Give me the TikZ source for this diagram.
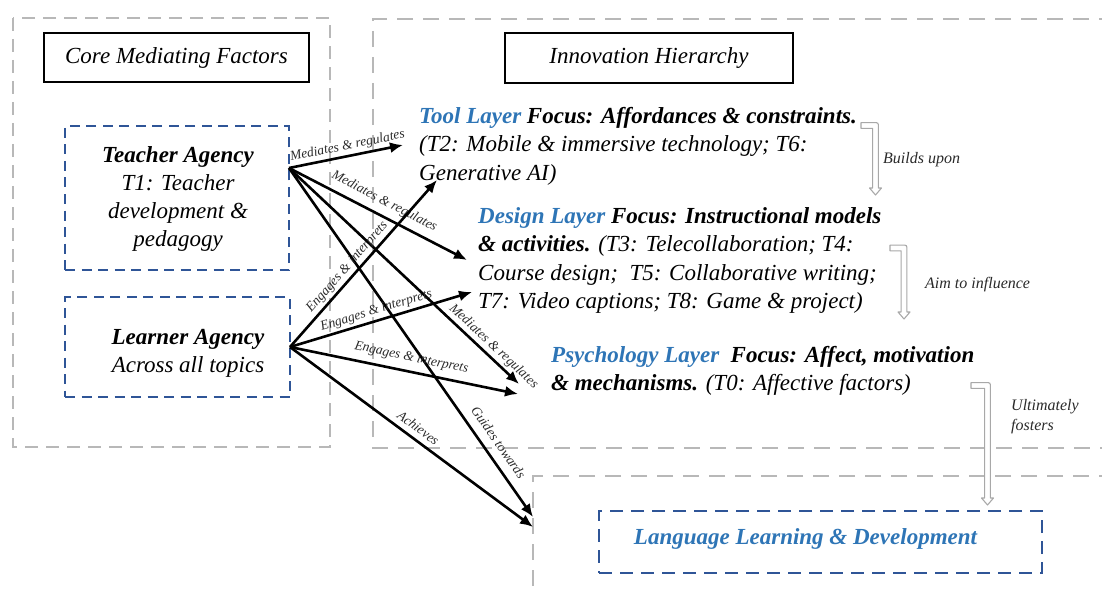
\documentclass[tikz,border=0pt]{standalone}
\usepackage{fontspec}
\setmainfont{Liberation Serif}
\usetikzlibrary{arrows.meta}
\definecolor{boxgray}{HTML}{B8B8B8}
\definecolor{arrowgray}{HTML}{A8A8A8}
\definecolor{dblue}{HTML}{2F5597}
\definecolor{tblue}{HTML}{2E75B6}
\definecolor{lblgray}{HTML}{2A2A2A}
\newcommand\bentarrow[4]{%
  \draw[bentstyle] (#1,#2-2.9) -- (#3-2,#2-2.9)
    .. controls (#3+2.9,#2-2.9) .. (#3+2.9,#2+2)
    -- (#3+2.9,#4-7) -- (#3+6,#4-7) -- (#3,#4) -- (#3-6,#4-7)
    -- (#3-2.9,#4-7) -- (#3-2.9,#2+2.9) -- (#1,#2+2.9) -- cycle;}
\begin{document}
\begin{tikzpicture}[x=1pt,y=-1pt,
  graybox/.style={draw=boxgray, line width=2.8pt, dash pattern=on 13pt off 8pt},
  grayboxwide/.style={draw=boxgray, line width=2.8pt, dash pattern=on 16pt off 10pt},
  bluebox/.style={draw=dblue, line width=2.9pt, dash pattern=on 10pt off 6.5pt, inner sep=0pt},
  blueboxwide/.style={draw=dblue, line width=2.9pt, dash pattern=on 13pt off 8pt, inner sep=0pt},
  titlebox/.style={draw=black, line width=2.2pt, font=\fontsize{23}{28}\selectfont\itshape},
  agencytext/.style={align=center, inner sep=0pt, font=\fontsize{23}{28}\selectfont\itshape},
  conn/.style={-{Latex[length=13pt,width=11pt]}, line width=2.6pt},
  lbl/.style={sloped, above=1.5pt, inner sep=1pt, font=\fontsize{13.5}{15}\selectfont\itshape, text=lblgray},
  bodytext/.style={align=left, anchor=north west, inner sep=0pt, font=\fontsize{23}{28.5}\selectfont\itshape},
  bentstyle/.style={draw=arrowgray, fill=white, line width=1.1pt, line join=round},
  smalllbl/.style={font=\fontsize{16}{20}\selectfont\itshape, align=left, anchor=west, inner sep=0pt, text=lblgray}
]
\useasboundingbox (0,0) rectangle (1102,596);
\clip (0,0) rectangle (1102,596);

% outer gray frames
\draw[graybox] (13,18) rectangle (330,447);
\draw[grayboxwide] (1115,19) -- (373,19) -- (373,448) -- (1115,448);
\draw[grayboxwide] (1115,476) -- (533,476) -- (533,610);

% titles
\node[titlebox, minimum width=265pt, minimum height=49pt] (cmf) at (176.5,57.5) {Core Mediating Factors};
\node[titlebox, minimum width=288pt, minimum height=50pt] (ih) at (649,58) {Innovation Hierarchy};

% agency boxes
\node[bluebox, minimum width=224pt, minimum height=144pt] (teacher) at (177,198) {};
\node[agencytext] (teachertxt) at (178,199) {\textbf{Teacher Agency}\\T1: Teacher\\development \&\\pedagogy};
\node[bluebox, minimum width=225pt, minimum height=100pt] (learner) at (177.5,347) {};
\node[agencytext] (learnertxt) at (188,353) {\textbf{Learner Agency}\\Across all topics};

% layers
\node[bodytext] (tool) at (419,107) {{\color{tblue}\textbf{Tool Layer}} \textbf{Focus: Affordances \& constraints.}\\(T2: Mobile \& immersive technology; T6:\\Generative AI)};
\node[bodytext] (design) at (478,207) {{\color{tblue}\textbf{Design Layer}} \textbf{Focus: Instructional models}\\\textbf{\& activities.} (T3: Telecollaboration; T4:\\Course design;\ \ T5: Collaborative writing;\\T7: Video captions; T8: Game \& project)};
\node[bodytext] (psych) at (551,346) {{\color{tblue}\textbf{Psychology Layer}}\ \ \textbf{Focus: Affect, motivation}\\\textbf{\& mechanisms.} (T0: Affective factors)};

% outcome
\node[blueboxwide, minimum width=443pt, minimum height=62pt] (lang) at (820.5,542) {};
\node[inner sep=0pt, font=\fontsize{23}{28}\selectfont\bfseries\itshape, text=tblue] (langtxt) at (805.5,539) {Language Learning \& Development};

% connector end points
\coordinate (tsrc) at (289,168);
\coordinate (lsrc) at (290,347);
\coordinate (tooltA) at (403,145);
\coordinate (toolL) at (437,180);
\coordinate (designT) at (467,260);
\coordinate (designL) at (472,292);
\coordinate (psychT) at (519,384);
\coordinate (psychL) at (518,394);
\coordinate (langT) at (533,517);
\coordinate (langL) at (533,527);

% teacher connectors
\draw[conn] (tsrc) -- node[lbl, pos=0.53] {Mediates \& regulates} (tooltA);
\draw[conn] (tsrc) -- node[lbl, pos=0.5, above=4pt] {Mediates \& regulates} (designT);
\draw[conn] (tsrc) -- node[lbl, pos=0.86] {Mediates \& regulates} (psychT);
\draw[conn] (tsrc) -- node[lbl, pos=0.81, above=6pt] {Guides towards} (langT);

% learner connectors
\draw[conn] (lsrc) -- node[lbl, pos=0.44] {Engages \& interprets} (toolL);
\draw[conn] (lsrc) -- node[lbl, pos=0.49] {Engages \& interprets} (designL);
\draw[conn] (lsrc) -- node[lbl, pos=0.52, above=4pt] {Engages \& interprets} (psychL);
\draw[conn] (lsrc) -- node[lbl, pos=0.5, above=3pt] {Achieves} (langL);

% hierarchy arrows
\bentarrow{861}{125.5}{875.5}{195}
\node[smalllbl] (builds) at (883,160) {Builds upon};
\bentarrow{890}{248}{904}{319}
\node[smalllbl] (aim) at (925,285) {Aim to influence};
\bentarrow{971}{385.5}{987.5}{505}
\node[smalllbl] (fosters) at (1011,417) {Ultimately\\fosters};
\end{tikzpicture}
\end{document}
